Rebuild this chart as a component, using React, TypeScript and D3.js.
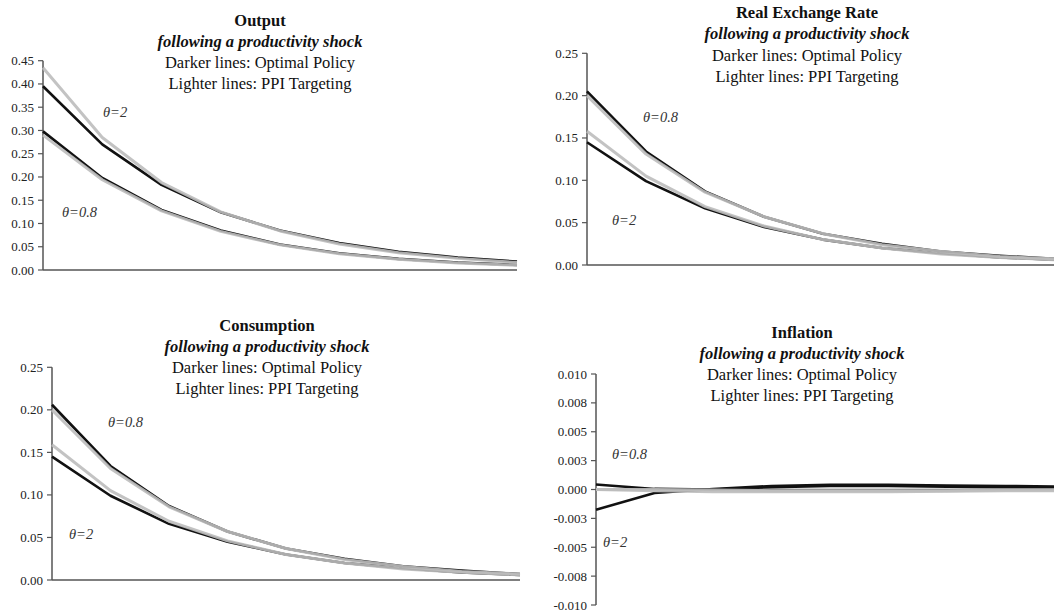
import React from "react";
import * as d3 from "d3";

const periods = [0, 1, 2, 3, 4, 5, 6, 7, 8];

// Output
const outOptTheta2 = [0.395, 0.27, 0.183, 0.124, 0.085, 0.058, 0.039, 0.027, 0.018];
const outPpiTheta2 = [0.435, 0.285, 0.188, 0.125, 0.084, 0.056, 0.037, 0.025, 0.016];
const outOptTheta08 = [0.298, 0.198, 0.129, 0.085, 0.055, 0.036, 0.024, 0.016, 0.011];
const outPpiTheta08 = [0.29, 0.194, 0.127, 0.083, 0.054, 0.035, 0.023, 0.015, 0.01];

// Real exchange rate
const rerOptTheta08 = [0.205, 0.134, 0.087, 0.057, 0.037, 0.025, 0.016, 0.011, 0.007];
const rerPpiTheta08 = [0.2, 0.131, 0.086, 0.057, 0.037, 0.024, 0.016, 0.01, 0.007];
const rerPpiTheta2 = [0.158, 0.105, 0.069, 0.046, 0.03, 0.02, 0.013, 0.009, 0.006];
const rerOptTheta2 = [0.145, 0.099, 0.067, 0.045, 0.03, 0.02, 0.014, 0.009, 0.006];

// Consumption
const conOptTheta08 = [0.206, 0.134, 0.087, 0.057, 0.037, 0.025, 0.016, 0.011, 0.007];
const conPpiTheta08 = [0.2, 0.131, 0.086, 0.057, 0.037, 0.024, 0.016, 0.01, 0.007];
const conPpiTheta2 = [0.159, 0.105, 0.069, 0.046, 0.03, 0.02, 0.013, 0.009, 0.006];
const conOptTheta2 = [0.145, 0.099, 0.066, 0.045, 0.03, 0.02, 0.014, 0.009, 0.006];

// Inflation
const infOptTheta08 = [0.00043, 0.00005, 0.0, 0.0002, 0.0003, 0.0003, 0.00025, 0.0002, 0.0002];
const infOptTheta2 = [-0.00175, -0.0003, 0.00005, 0.0003, 0.0004, 0.0004, 0.00035, 0.0003, 0.00025];
const infPpiTheta08 = [0.0, 0.0, -0.00005, -0.0001, -0.0001, -0.0001, -0.0001, -0.00005, -0.00005];
const infPpiTheta2 = [0.0, -0.0001, -0.0002, -0.0002, -0.0002, -0.0002, -0.00015, -0.0001, -0.0001];

const ticks045 = [0, 0.05, 0.1, 0.15, 0.2, 0.25, 0.3, 0.35, 0.4, 0.45];
const tickLabels045 = ["0.00", "0.05", "0.10", "0.15", "0.20", "0.25", "0.30", "0.35", "0.40", "0.45"];
const ticks025 = [0, 0.05, 0.1, 0.15, 0.2, 0.25];
const tickLabels025 = ["0.00", "0.05", "0.10", "0.15", "0.20", "0.25"];
const ticksInf = [-0.01, -0.0075, -0.005, -0.0025, 0, 0.0025, 0.005, 0.0075, 0.01];
const tickLabelsInf = ["-0.010", "-0.008", "-0.005", "-0.003", "0.000", "0.003", "0.005", "0.008", "0.010"];

const titleLines = ["following a productivity shock", "Darker lines: Optimal Policy", "Lighter lines: PPI Targeting"];

const DARK = "#111111";
const LIGHT = "#bdbdbd";
const AXIS = "#555555";
const SERIF = "Liberation Serif";

type Label = { text: string; x: number; y: number };
type PanelSpec = {
  title: string;
  titleX: number;
  titleY: number;
  x0: number;
  x1: number;
  yBottom: number;
  yTop: number;
  domain: [number, number];
  ticks: number[];
  tickLabels: string[];
  dark: number[][];
  light: number[][];
  labels: Label[];
};

const panels: PanelSpec[] = [
  {
    title: "Output", titleX: 260, titleY: 25.5,
    x0: 43, x1: 517, yBottom: 270, yTop: 60.7, domain: [0, 0.45],
    ticks: ticks045, tickLabels: tickLabels045,
    dark: [outOptTheta2, outOptTheta08], light: [outPpiTheta2, outPpiTheta08],
    labels: [{ text: "θ=2", x: 103, y: 117 }, { text: "θ=0.8", x: 62, y: 217 }],
  },
  {
    title: "Real Exchange Rate", titleX: 807, titleY: 18,
    x0: 587, x1: 1059, yBottom: 265, yTop: 53.3, domain: [0, 0.25],
    ticks: ticks025, tickLabels: tickLabels025,
    dark: [rerOptTheta08, rerOptTheta2], light: [rerPpiTheta08, rerPpiTheta2],
    labels: [{ text: "θ=0.8", x: 643, y: 122 }, { text: "θ=2", x: 612, y: 225 }],
  },
  {
    title: "Consumption", titleX: 267, titleY: 330.5,
    x0: 52, x1: 520, yBottom: 580, yTop: 367.3, domain: [0, 0.25],
    ticks: ticks025, tickLabels: tickLabels025,
    dark: [conOptTheta08, conOptTheta2], light: [conPpiTheta08, conPpiTheta2],
    labels: [{ text: "θ=0.8", x: 108, y: 427 }, { text: "θ=2", x: 69, y: 539 }],
  },
  {
    title: "Inflation", titleX: 802, titleY: 337.5,
    x0: 596, x1: 1064, yBottom: 605, yTop: 374, domain: [-0.01, 0.01],
    ticks: ticksInf, tickLabels: tickLabelsInf,
    dark: [infOptTheta08, infOptTheta2], light: [infPpiTheta08, infPpiTheta2],
    labels: [{ text: "θ=0.8", x: 612, y: 459 }, { text: "θ=2", x: 603, y: 547 }],
  },
];

function Panel({ p }: { p: PanelSpec }) {
  const x = d3.scaleLinear().domain([0, periods.length - 1]).range([p.x0, p.x1]);
  const y = d3.scaleLinear().domain(p.domain).range([p.yBottom, p.yTop]);
  const line = d3
    .line<number>()
    .x((_, i) => x(periods[i]))
    .y((d) => y(d));
  const zeroY = y(Math.max(p.domain[0], Math.min(0, p.domain[1])));
  return (
    <g>
      <text x={p.titleX} y={p.titleY} textAnchor="middle" fontFamily={SERIF} fontSize={16.5} fontWeight="bold" fill="#111">
        {p.title}
      </text>
      {titleLines.map((t, i) => (
        <text
          key={i}
          x={p.titleX}
          y={p.titleY + 21.3 * (i + 1)}
          textAnchor="middle"
          fontFamily={SERIF}
          fontSize={16.5}
          fontWeight={i === 0 ? "bold" : "normal"}
          fontStyle={i === 0 ? "italic" : "normal"}
          fill="#111"
        >
          {t}
        </text>
      ))}
      <line x1={p.x0} x2={p.x0} y1={p.yTop} y2={p.yBottom} stroke={AXIS} strokeWidth={1.5} />
      <line x1={p.x0} x2={p.x1} y1={zeroY} y2={zeroY} stroke={AXIS} strokeWidth={1.5} />
      {p.ticks.map((t, i) => (
        <g key={i}>
          <line x1={p.x0 - 5} x2={p.x0} y1={y(t)} y2={y(t)} stroke={AXIS} strokeWidth={1.2} />
          <text x={p.x0 - 9} y={y(t) + 4.5} textAnchor="end" fontFamily={SERIF} fontSize={13} fill="#222">
            {p.tickLabels[i]}
          </text>
        </g>
      ))}
      {p.dark.map((s, i) => (
        <path key={"d" + i} d={line(s) || ""} fill="none" stroke={DARK} strokeWidth={2.6} strokeLinejoin="round" />
      ))}
      {p.light.map((s, i) => (
        <path key={"l" + i} d={line(s) || ""} fill="none" stroke={LIGHT} strokeWidth={3} strokeLinejoin="round" opacity={0.9} />
      ))}
      {p.labels.map((l, i) => (
        <text key={i} x={l.x} y={l.y} fontFamily={SERIF} fontSize={14.5} fontStyle="italic" fill="#333">
          {l.text}
        </text>
      ))}
    </g>
  );
}

export default function App() {
  return (
    <svg
      width={1054}
      height={615}
      style={{ position: "absolute", left: 0, top: 0, background: "#fff" }}
    >
      <rect x={0} y={0} width={1054} height={615} fill="#fff" />
      {panels.map((p, i) => (
        <Panel key={i} p={p} />
      ))}
    </svg>
  );
}
